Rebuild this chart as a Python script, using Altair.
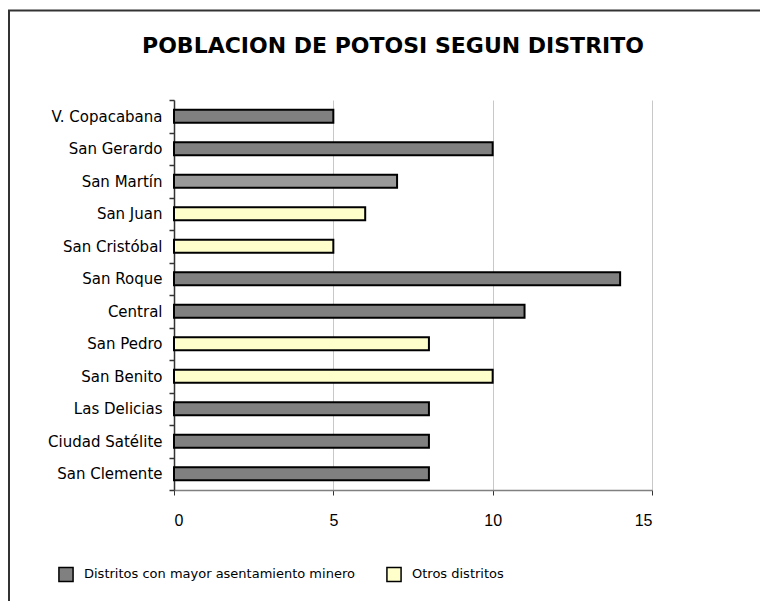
import altair as alt
import pandas as pd

distritos = ["V. Copacabana", "San Gerardo", "San Martín", "San Juan", "San Cristóbal",
             "San Roque", "Central", "San Pedro", "San Benito", "Las Delicias",
             "Ciudad Satélite", "San Clemente"]
poblacion = [5, 10, 7, 6, 5, 14, 11, 8, 10, 8, 8, 8]
tipo_mineros = "Distritos con mayor asentamiento minero"
tipo_otros = "Otros distritos"
tipos = [tipo_mineros, tipo_mineros, tipo_mineros, tipo_otros, tipo_otros,
         tipo_mineros, tipo_mineros, tipo_otros, tipo_otros, tipo_mineros,
         tipo_mineros, tipo_mineros]
x_ticks = [0, 5, 10, 15]

df = pd.DataFrame({"distrito": distritos, "poblacion": poblacion, "tipo": tipos})

FONT = "DejaVu Sans"
FONT2 = "Liberation Sans"

bars = alt.Chart(df).mark_bar(stroke="black", strokeWidth=2, clip=False,
                              height=alt.RelativeBandSize(0.4)).encode(
    y=alt.Y("distrito:N", sort=distritos, title=None,
            scale=alt.Scale(paddingInner=0, paddingOuter=0),
            axis=alt.Axis(tickBand="extent", labelFont=FONT, labelFontSize=15,
                          labelColor="black", domainColor="#333333", tickColor="#333333",
                          tickSize=5, labelPadding=7, domainWidth=1.5, tickWidth=1.5)),
    x=alt.X("poblacion:Q", title=None,
            scale=alt.Scale(domain=[0, 15], nice=False),
            axis=alt.Axis(values=x_ticks, labelFont=FONT2, labelFontSize=16,
                          labelColor="black", domainColor="#808080", tickColor="#333333",
                          tickSize=5, labelPadding=17, gridColor="#c8c8c8",
                          domainWidth=1.5)),
    color=alt.condition(
        alt.datum.distrito == "San Martín",
        alt.value("#999999"),
        alt.Color("tipo:N", title=None,
                  scale=alt.Scale(domain=[tipo_mineros, tipo_otros],
                                  range=["#808080", "#FFFFCC"]),
                  legend=alt.Legend(orient="none", legendX=-116, legendY=466,
                                    direction="horizontal", symbolType="square",
                                    symbolSize=200, symbolStrokeColor="black",
                                    symbolStrokeWidth=1.5, labelFont=FONT,
                                    labelFontSize=13, labelColor="black",
                                    labelLimit=500, columnPadding=28, labelOffset=10)),
    ),
)

frame = alt.Chart(pd.DataFrame({"k": [0]})).mark_rect(
    fill=None, stroke="#333333", strokeWidth=2, clip=False
).encode(
    x=alt.value(-165), x2=alt.value(700),
    y=alt.value(-89.5), y2=alt.value(600),
)

chart = alt.layer(frame, bars).properties(
    width=478, height=390,
    padding={"left": 166, "top": 92, "right": 108, "bottom": 111},
    autosize=alt.AutoSizeParams(type="none"),
    title=alt.TitleParams("POBLACION DE POTOSI SEGUN DISTRITO", font=FONT,
                          fontSize=22, fontWeight="bold", color="black",
                          anchor="middle", dx=-20, offset=0, dy=48),
).configure_view(stroke=None)

chart.save("out.html", embed_options={"renderer": "svg", "actions": False})
